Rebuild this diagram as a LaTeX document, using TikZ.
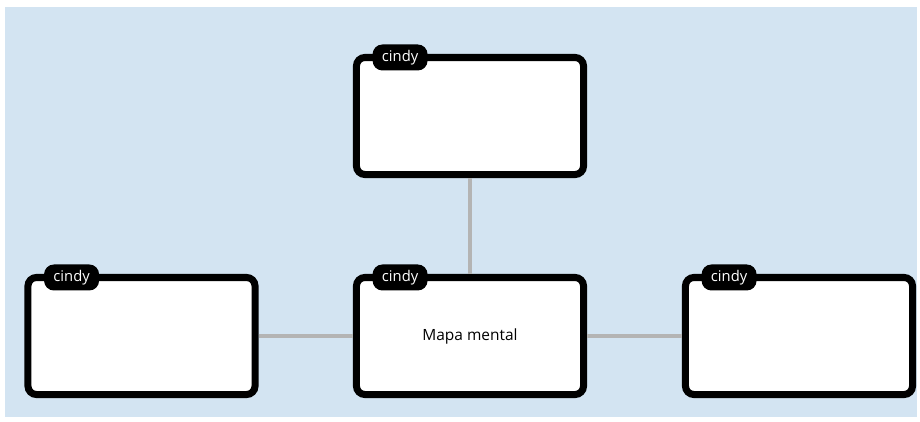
\documentclass[tikz,border=0pt]{standalone}
\usepackage{fontspec}
\setmainfont{Open Sans}
\definecolor{bgblue}{HTML}{D3E4F2}
\definecolor{linkgray}{HTML}{B4B4B4}
\begin{document}
\begin{tikzpicture}[x=0.025cm, y=-0.025cm,
		box/.style={draw, line width=5pt, fill=white, rounded corners=6pt, outer sep=0pt, minimum width=5.675cm, minimum height=2.925cm, font=\fontsize{11}{13}\selectfont},
		tag/.style={fill=black, text=white, rounded corners=7pt, inner sep=0pt, minimum width=1.375cm, minimum height=0.65cm, font=\fontsize{10.5}{12}\selectfont},
		link/.style={draw=linkgray, line width=2.8pt, shorten >=2.5pt, shorten <=2.5pt}]
		\useasboundingbox (0,0) rectangle (920,421);
		\fill[bgblue] (5,7) rectangle (917,417);

		\node[box] at (470,116) (topbox) {};
		\node[box] at (470,336) (mapa) {Mapa mental};
		\node[box] at (141.5,336) (leftbox) {};
		\node[box] at (799,336) (rightbox) {};

		\path[link] (topbox) edge (mapa);
		\path[link] (leftbox) edge (mapa);
		\path[link] (mapa) edge (rightbox);

		\node[tag] at ([xshift=1.09cm]topbox.north west) (toptag) {cindy};
		\node[tag] at ([xshift=1.09cm]mapa.north west) (mapatag) {cindy};
		\node[tag] at ([xshift=1.09cm]leftbox.north west) (lefttag) {cindy};
		\node[tag] at ([xshift=1.09cm]rightbox.north west) (righttag) {cindy};
\end{tikzpicture}
\end{document}
